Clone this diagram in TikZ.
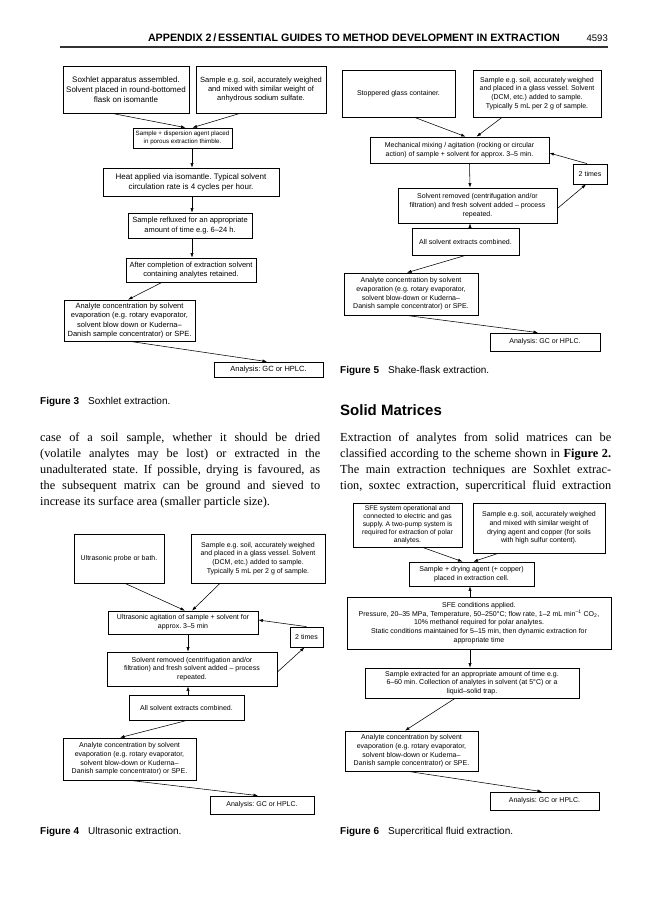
\documentclass[tikz,border=0pt]{standalone}
\usepackage{fontspec}
\setmainfont{Liberation Serif}
\setsansfont{Liberation Sans}
\usetikzlibrary{arrows.meta}
% \mkbox{name}{x1}{y1}{x2}{y2}{options}{text}
\newcommand\mkbox[7]{\node[flowbox,#6,minimum width={#4-#2},minimum height={#5-#3}] (#1) at ({(#2+#4)/2},{(#3+#5)/2}) {#7};}
\begin{document}
\frenchspacing
\begin{tikzpicture}[x=1pt,y=-1pt,
  flowbox/.style={draw,line width=0.75pt,align=center,inner xsep=1.5pt,inner ysep=1pt,font=\sffamily\fontsize{7}{8.7}\selectfont},
  arr/.style={-{Latex[length=4.5pt,width=3.2pt]},line width=0.55pt},
  fa/.style={font=\sffamily\fontsize{8}{10}\selectfont},
  fb/.style={font=\sffamily\fontsize{7.5}{9.3}\selectfont},
  fc/.style={font=\sffamily\fontsize{6.2}{8.2}\selectfont},
  fd/.style={font=\sffamily\fontsize{6.8}{8}\selectfont},
  figcap/.style={anchor=base west,inner sep=0,font=\sffamily\fontsize{10}{12}\selectfont},
  bodytext/.style={anchor=base west,inner sep=0,font=\rmfamily\fontsize{12.3}{15}\selectfont},
]
\useasboundingbox[fill=white] (0,0) rectangle (668,900);

% ---- running head
\node[anchor=base east,inner sep=0,font=\sffamily\bfseries\fontsize{10.7}{12}\selectfont] (hdr) at (560,41) {APPENDIX 2\,/\,ESSENTIAL GUIDES TO METHOD DEVELOPMENT IN EXTRACTION};
\node[anchor=base east,inner sep=0,font=\sffamily\fontsize{9.5}{11}\selectfont] (pg) at (608,41) {4593};
\coordinate (ruleL) at (60,47);
\coordinate (ruleR) at (608,47);
\draw[line width=1.3pt,black!80] (ruleL) -- (ruleR);

% ---- Figure 3
\mkbox{A3}{63}{66}{189}{113}{fa}{Soxhlet apparatus assembled.\\Solvent placed in round-bottomed\\flask on isomantle}
\mkbox{B3}{196}{66}{326}{113}{fb}{Sample e.g. soil, accurately weighed\\and mixed with similar weight of\\anhydrous sodium sulfate.}
\mkbox{C3}{133}{128}{232}{148}{fc}{Sample + dispersion agent placed\\in porous extraction thimble.}
\mkbox{D3}{103}{168}{279}{196}{fa}{Heat applied via isomantle. Typical solvent\\circulation rate is 4 cycles per hour.}
\mkbox{E3}{128}{213}{252}{238}{fb}{Sample refluxed for an appropriate\\amount of time e.g. 6–24 h.}
\mkbox{F3}{126}{258}{256}{282}{fb}{After completion of extraction solvent\\containing analytes retained.}
\mkbox{G3}{64}{300}{195}{341}{fb}{Analyte concentration by solvent\\evaporation (e.g. rotary evaporator,\\solvent blow down or Kuderna–\\Danish sample concentrator) or SPE.}
\mkbox{H3}{214}{362}{323}{377}{fb}{Analysis: GC or HPLC.}
\draw[arr] ([xshift=-14pt]A3.south) -- ([xshift=3pt]C3.north);
\draw[arr] ([xshift=-21pt]B3.south) -- ([xshift=10pt]C3.north);
\draw[arr] ([xshift=9.5pt]C3.south) -- ([xshift=1pt]D3.north);
\draw[arr] ([xshift=1pt]D3.south) -- ([xshift=2pt]E3.north);
\draw[arr] ([xshift=2pt]E3.south) -- ([xshift=1pt]F3.north);
\draw[arr] ([xshift=-29pt]F3.south) -- ([xshift=-1.5pt]G3.north);
\draw[arr] ([xshift=0.5pt]G3.south) -- ([xshift=-1.5pt]H3.north);
\node[figcap] (cap3) at (40,404) {\textbf{Figure 3}\hspace{0.9em}Soxhlet extraction.};

% ---- Figure 5
\mkbox{A5}{342}{70}{455}{117}{}{Stoppered glass container.}
\mkbox{B5}{473}{70}{601}{117}{}{Sample e.g. soil, accurately weighed\\and placed in a glass vessel. Solvent\\(DCM, etc.) added to sample.\\Typically 5 mL per 2 g of sample.}
\mkbox{C5}{370}{137}{549}{163}{}{Mechanical mixing / agitation (rocking or circular\\action) of sample + solvent for approx. 3–5 min.}
\mkbox{T5}{573}{164}{607}{184}{}{2 times}
\mkbox{D5}{398}{188}{557}{223}{}{Solvent removed (centrifugation and/or\\filtration) and fresh solvent added – process\\repeated.}
\mkbox{E5}{412}{228}{519}{255}{}{All solvent extracts combined.}
\mkbox{F5}{344}{273}{478}{315}{}{Analyte concentration by solvent\\evaporation (e.g. rotary evaporator,\\solvent blow-down or Kuderna–\\Danish sample concentrator) or SPE.}
\mkbox{G5}{490}{333}{600}{351}{}{Analysis: GC or HPLC.}
\draw[arr] ([xshift=16pt]A5.south) -- ([xshift=6pt]C5.north);
\draw[arr] ([xshift=-35pt]B5.south) -- ([xshift=17pt]C5.north);
\draw[arr] ([xshift=10pt]C5.south) -- ([xshift=-7.5pt]D5.north);
\draw[arr] ([yshift=-3pt]D5.east) -- ([xshift=-4pt]T5.south);
\draw[arr] ([xshift=-3pt]T5.north) -- ([yshift=-3pt]C5.east);
\draw[arr] ([xshift=4.5pt]E5.north) -- ([xshift=-7.5pt]D5.south);
\draw[arr] (E5.south) -- ([xshift=-4pt]F5.north);
\draw[arr] ([xshift=-5pt]F5.south) -- ([xshift=-7pt]G5.north);
\node[figcap] (cap5) at (340,373) {\textbf{Figure 5}\hspace{0.9em}Shake-flask extraction.};

% ---- body text
\node[bodytext] (l1) at (40,441) {\makebox[280pt][s]{case of a soil sample, whether it should be dried}};
\node[bodytext] (l2) at (40,457) {\makebox[280pt][s]{(volatile analytes may be lost) or extracted in the}};
\node[bodytext] (l3) at (40,473) {\makebox[280pt][s]{unadulterated state. If possible, drying is favoured, as}};
\node[bodytext] (l4) at (40,489) {\makebox[280pt][s]{the subsequent matrix can be ground and sieved to}};
\node[bodytext] (l5) at (40,505) {increase its surface area (smaller particle size).};
\node[anchor=base west,inner sep=0,font=\sffamily\bfseries\fontsize{15}{17}\selectfont] (hd) at (340,415) {Solid Matrices};
\node[bodytext] (r1) at (340,441) {\makebox[271pt][s]{Extraction of analytes from solid matrices can be}};
\node[bodytext] (r2) at (340,457) {\makebox[271pt][s]{classified according to the scheme shown in \textbf{Figure 2.}}};
\node[bodytext] (r3) at (340,473) {\makebox[271pt][s]{The main extraction techniques are Soxhlet extrac-}};
\node[bodytext] (r4) at (340,489) {\makebox[271pt][s]{tion, soxtec extraction, supercritical fluid extraction}};

% ---- Figure 4
\mkbox{A4}{74}{534}{164}{583}{}{Ultrasonic probe or bath.}
\mkbox{B4}{191}{534}{325}{583}{}{Sample e.g. soil, accurately weighed\\and placed in a glass vessel. Solvent\\(DCM, etc.) added to sample.\\Typically 5 mL per 2 g of sample.}
\mkbox{C4}{108}{611}{258}{634}{}{Ultrasonic agitation of sample + solvent for\\approx. 3–5 min}
\mkbox{T4}{290}{627}{323}{647}{}{2 times}
\mkbox{D4}{107}{652}{277}{686}{}{Solvent removed (centrifugation and/or\\filtration) and fresh solvent added – process\\repeated.}
\mkbox{E4}{129}{695}{244}{720}{}{All solvent extracts combined.}
\mkbox{F4}{63}{738}{196}{780}{}{Analyte concentration by solvent\\evaporation (e.g. rotary evaporator,\\solvent blow-down or Kuderna–\\Danish sample concentrator) or SPE.}
\mkbox{G4}{210}{796}{314}{814}{}{Analysis: GC or HPLC.}
\draw[arr] ([xshift=6pt]A4.south) -- ([xshift=2pt]C4.north);
\draw[arr] ([xshift=-38pt]B4.south) -- ([xshift=9pt]C4.north);
\draw[arr] ([xshift=5pt]C4.south) -- ([xshift=-4pt]D4.north);
\draw[arr] ([yshift=-3pt]D4.east) -- ([xshift=-2pt]T4.south);
\draw[arr] (T4.north) -- ([yshift=2.5pt]C4.east);
\draw[arr] ([xshift=1.5pt]E4.north) -- ([xshift=-4pt]D4.south);
\draw[arr] ([xshift=0.5pt]E4.south) -- ([xshift=-9.5pt]F4.north);
\draw[arr] ([xshift=0.5pt]F4.south) -- ([xshift=-4pt]G4.north);
\node[figcap] (cap4) at (40,834) {\textbf{Figure 4}\hspace{0.9em}Ultrasonic extraction.};

% ---- Figure 6
\mkbox{A6}{353}{503}{462}{547}{fd}{SFE system operational and\\connected to electric and gas\\supply. A two-pump system is\\required for extraction of polar\\analytes.}
\mkbox{B6}{473}{503}{605}{553}{}{Sample e.g. soil, accurately weighed\\and mixed with similar weight of\\drying agent and copper (for soils\\with high sulfur content).}
\mkbox{C6}{409}{562}{534}{586}{}{Sample + drying agent (+ copper)\\placed in extraction cell.}
\mkbox{D6}{347}{597}{611}{649}{}{SFE conditions applied.\\Pressure, 20–35 MPa, Temperature, 50–250°C; flow rate, 1–2 mL min\textsuperscript{–1} CO\textsubscript{2},\\10\% methanol required for polar analytes.\\Static conditions maintained for 5–15 min, then dynamic extraction for\\appropriate time}
\mkbox{E6}{365}{668}{579}{698}{}{Sample extracted for an appropriate amount of time e.g.\\6–60 min. Collection of analytes in solvent (at 5°C) or a\\liquid–solid trap.}
\mkbox{F6}{345}{731}{478}{771}{}{Analyte concentration by solvent\\evaporation (e.g. rotary evaporator,\\solvent blow-down or Kuderna–\\Danish sample concentrator) or SPE.}
\mkbox{G6}{490}{792}{599}{810}{}{Analysis: GC or HPLC.}
\draw[arr] ([xshift=15pt]A6.south) -- ([xshift=-9pt]C6.north);
\draw[arr] ([xshift=-41pt]B6.south) -- ([xshift=2pt]C6.north);
\draw[arr] ([xshift=-9pt]D6.north) -- ([xshift=-1.5pt]C6.south);
\draw[arr] ([xshift=-9pt]D6.south) -- ([xshift=-2pt]E6.north);
\draw[arr] ([xshift=-17pt]E6.south) -- ([xshift=-6.5pt]F6.north);
\draw[arr] ([xshift=-3.5pt]F6.south) -- ([xshift=-2.5pt]G6.north);
\node[figcap] (cap6) at (340,834) {\textbf{Figure 6}\hspace{0.9em}Supercritical fluid extraction.};
\end{tikzpicture}
\end{document}
